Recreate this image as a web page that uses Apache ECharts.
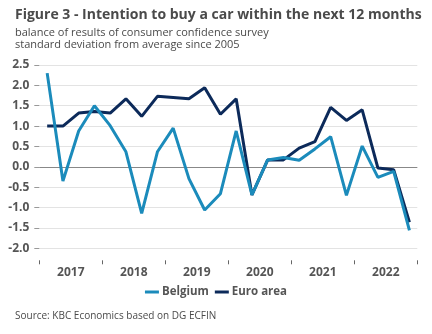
<!DOCTYPE html>
<html>
<head>
<meta charset="utf-8">
<script src="https://cdn.jsdelivr.net/npm/echarts@6/dist/echarts.min.js"></script>
<style>
html,body{margin:0;padding:0;background:#fff;}
#c{width:432px;height:334px;}
</style>
</head>
<body>
<div id="c"></div>
<script>
const quarters = ['2017Q1','2017Q2','2017Q3','2017Q4','2018Q1','2018Q2','2018Q3','2018Q4',
  '2019Q1','2019Q2','2019Q3','2019Q4','2020Q1','2020Q2','2020Q3','2020Q4',
  '2021Q1','2021Q2','2021Q3','2021Q4','2022Q1','2022Q2','2022Q3','2022Q4'];
const years = ['2017','2018','2019','2020','2021','2022'];
const belgium = [2.30,-0.35,0.88,1.50,1.01,0.37,-1.14,0.37,0.95,-0.29,-1.06,-0.66,
  0.88,-0.69,0.17,0.23,0.16,0.44,0.74,-0.70,0.51,-0.26,-0.11,-1.56];
const euroArea = [1.00,1.00,1.32,1.36,1.32,1.67,1.24,1.73,1.70,1.67,1.94,1.29,
  1.67,-0.69,0.17,0.17,0.46,0.62,1.46,1.14,1.40,-0.03,-0.07,-1.36];

const FONT = 'Open Sans';
const chart = echarts.init(document.getElementById('c'), null, {renderer:'canvas'});
chart.setOption({
  animation:false,
  backgroundColor:'#fff',
  title:[
    {text:'Figure 3 - Intention to buy a car within the next 12 months', left:10, top:3,
     textStyle:{fontFamily:FONT, fontWeight:'bold', fontSize:14, color:'#4a4a4a'}},
    {text:'balance of results of consumer confidence survey\nstandard deviation from average since 2005', left:10, top:22,
     textStyle:{fontFamily:FONT, fontWeight:'normal', fontSize:11, lineHeight:12, color:'#4a4a4a'}},
    {text:'Source: KBC Economics based on DG ECFIN', left:10, top:306,
     textStyle:{fontFamily:FONT, fontWeight:'normal', fontSize:10, color:'#4a4a4a'}}
  ],
  legend:{
    top:281, left:'center', itemWidth:14, itemHeight:3, itemGap:6,
    icon:'rect',
    textStyle:{fontFamily:FONT, fontWeight:'bold', fontSize:11.5, color:'#555', padding:[0,0,0,-2]},
    data:['Belgium','Euro area']
  },
  grid:{left:39.3, right:14.7, top:65, bottom:334-248.3},
  xAxis:[
    {type:'category', data:quarters, boundaryGap:true, show:false},
    {type:'category', data:years, boundaryGap:true, position:'bottom', offset:12,
     axisLine:{show:false},
     axisTick:{show:true, length:4, lineStyle:{color:'#666'}},
     axisLabel:{fontFamily:FONT, fontWeight:'bold', fontSize:12, color:'#555', margin:6},
     splitLine:{show:false}}
  ],
  yAxis:{
    type:'value', min:-2.0, max:2.5, interval:0.5,
    axisLine:{show:false},
    axisTick:{show:true, length:5, lineStyle:{color:'#999'}},
    axisLabel:{fontFamily:FONT, fontWeight:'bold', fontSize:12, color:'#555', margin:10,
      formatter:v=>v.toFixed(1)},
    splitLine:{show:true, lineStyle:{color:'#e3e3e3', width:1}}
  },
  series:[
    {name:'Belgium', type:'line', xAxisIndex:0, data:belgium, symbol:'none',
     lineStyle:{color:'#1b8bbb', width:3}, itemStyle:{color:'#1b8bbb'}, z:3,
     markLine:{silent:true, symbol:'none', label:{show:false},
       lineStyle:{color:'#888', width:1, type:'solid'}, data:[{yAxis:0}], z:1}},
    {name:'Euro area', type:'line', xAxisIndex:0, data:euroArea, symbol:'none',
     lineStyle:{color:'#0c2a5a', width:3}, itemStyle:{color:'#0c2a5a'}, z:2}
  ]
});
</script>
</body>
</html>
